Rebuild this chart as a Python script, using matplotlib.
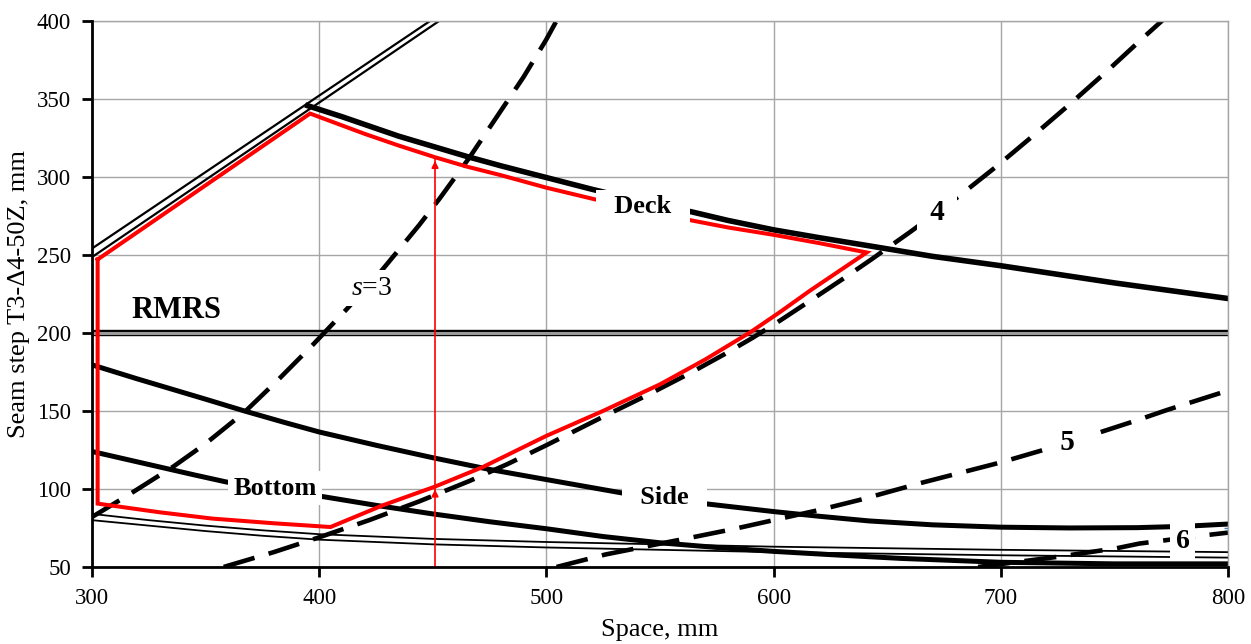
import matplotlib

matplotlib.use("Agg")

import matplotlib.pyplot as plt

plt.rcParams["font.family"] = ["Liberation Serif", "DejaVu Serif"]
plt.rcParams["mathtext.fontset"] = "custom"
plt.rcParams["mathtext.it"] = "Liberation Serif:italic"
plt.rcParams["mathtext.rm"] = "Liberation Serif"

# -----------------------------------------
# Data
# -----------------------------------------

# upper-left double line (two thin parallel lines)
dbl_top_x = [300, 449]
dbl_top_y = [254, 400]
dbl_bot_x = [300, 453]
dbl_bot_y = [248.5, 400]

# Deck (thick)
deck_x = [395, 410, 420, 435, 450, 465, 480, 500, 520, 540, 564, 580, 600,
          620, 641, 670, 700, 725, 750, 775, 800]
deck_y = [345.5, 338.5, 333.5, 326, 319.5, 313, 307, 299.5, 292, 285, 277.5,
          272, 266, 261, 256, 249, 243, 237.5, 232, 227, 222]

# Side (thick)
side_x = [300, 320, 335, 350, 367, 385, 400, 425, 450, 475, 500, 533, 550,
          570, 600, 620, 642, 670, 700, 730, 760, 780, 800]
side_y = [179.5, 170.5, 164, 157.5, 150, 142.5, 136.5, 128, 120, 112.5, 106,
          97.5, 94, 90.5, 85.5, 82.5, 79.5, 77, 75.5, 75, 75.2, 76, 77.5]

# Bottom (thick)
bottom_x = [300, 315, 330, 345, 359, 380, 402, 425, 450, 475, 500, 525, 550,
            575, 600, 630, 656, 700, 750, 800]
bottom_y = [124, 119, 114, 109, 104.5, 99.5, 95, 89.5, 84, 79, 74.5, 69.5,
            65.5, 62.5, 60, 57.5, 55.5, 53, 52, 52]

# lower thin double line
thin_x = [300, 325, 350, 375, 400, 450, 500, 550, 600, 700, 800]
thin_top_y = [84, 80, 76.5, 73.5, 71, 68, 66, 64.5, 63, 61, 59.5]
thin_bot_y = [80, 76.5, 73, 70, 67.5, 64.5, 62.5, 61, 59.5, 57.5, 56]

# RMRS level
rmrs_x = [300, 800]
rmrs_y = [200, 200]

# dashed curves, s = 3..6
s3_x = [300, 317, 336, 350, 367, 382, 397, 412, 427, 444, 453, 466, 478,
        490, 500, 504.5]
s3_y = [82, 97, 114.5, 129, 149, 170, 192, 215, 239, 269, 286, 312, 338,
        364, 388, 400]
s4_x = [358, 380, 400, 422, 444, 466, 483, 500, 526, 545, 563, 578, 591,
        603, 615, 632, 643, 660, 682, 698, 714, 730, 747, 763, 771]
s4_y = [50, 59.5, 69, 80, 92, 105, 116, 128, 147, 160.5, 174, 186, 197,
        208, 219.5, 236, 247, 264.5, 288, 306.5, 326, 346, 368, 389.5, 400]
s5_x = [504.5, 526, 545, 566, 583, 600, 620, 638, 664, 680, 700, 720, 742,
        760, 773, 787, 800]
s5_y = [50, 58, 63.5, 69.5, 74.5, 80, 86.5, 93, 103.5, 109.5, 117, 125.5,
        135.5, 144, 150.5, 157, 163]
s6_x = [690, 725, 751, 761, 788, 800]
s6_y = [50, 56.5, 62, 65, 70, 72]

# red feasible region
red_x = [302.5, 302.5, 330, 353, 380, 405, 428, 451, 472, 500, 525, 550,
         570, 590, 603, 616, 641,
         620, 600, 580, 564, 540, 520, 500, 480, 465, 451, 435, 420, 408,
         396, 302.5]
red_y = [247, 90.6, 85, 81, 78, 75.6, 89.5, 101.5, 114, 134, 150, 167,
         183, 200.6, 213.5, 227, 251.5,
         257.5, 262.8, 267.5, 272, 279, 286, 293, 301, 306.5, 312.5, 320,
         327.5, 334, 340.5, 247]

# red arrow
arrow_x = 451
arrow_y = [50, 101.5, 312]

# -----------------------------------------
# Plot
# -----------------------------------------

fig = plt.figure(figsize=(12.51, 6.44), dpi=100)
ax = fig.add_axes([0.0735, 0.1196, 0.9081, 0.8483])

ax.set_xlim(300, 800)
ax.set_ylim(50, 400)
ax.set_xticks([300, 400, 500, 600, 700, 800])
ax.set_yticks([50, 100, 150, 200, 250, 300, 350, 400])
ax.grid(True, color="#a6a6a6", linewidth=1.0)
ax.set_axisbelow(True)

for side in ["top", "right"]:
    ax.spines[side].set_color("#a6a6a6")
    ax.spines[side].set_linewidth(1.0)
for side in ["left", "bottom"]:
    ax.spines[side].set_linewidth(2.0)
    ax.spines[side].set_zorder(6)

ax.tick_params(labelsize=16.5, length=7, width=2, pad=8)

black = "black"
ax.plot(dbl_top_x, dbl_top_y, color=black, lw=1.6)
ax.plot(dbl_bot_x, dbl_bot_y, color=black, lw=1.6)

ax.plot(thin_x, thin_top_y, color=black, lw=1.3)
ax.plot(thin_x, thin_bot_y, color=black, lw=1.3)

ax.plot(rmrs_x, rmrs_y, color=black, lw=4.6, solid_capstyle="butt")
ax.plot(rmrs_x, rmrs_y, color="#999999", lw=2.2, solid_capstyle="butt")

ax.plot(deck_x, deck_y, color=black, lw=4.0)
ax.plot(side_x, side_y, color=black, lw=3.6)
ax.plot(bottom_x, bottom_y, color=black, lw=3.6)

for xs, ys in [(s3_x, s3_y), (s4_x, s4_y), (s5_x, s5_y), (s6_x, s6_y)]:
    ax.plot(xs, ys, color=black, lw=3.3, dashes=(7, 3.2),
            dash_capstyle="butt")

ax.plot(red_x, red_y, color="red", lw=2.9, solid_joinstyle="miter", zorder=4)

ax.plot([arrow_x, arrow_x], [arrow_y[0], arrow_y[-1]], color="red", lw=1.2,
        zorder=4)
for tip in arrow_y[1:]:
    ax.annotate("", xy=(arrow_x, tip), xytext=(arrow_x, tip - 6),
                arrowprops=dict(arrowstyle="-|>", color="red", lw=1.2,
                                mutation_scale=10), zorder=4)

ax.plot([800], [75], marker="+", color="#4f81bd", ms=6, mew=1)

# labels
box = dict(boxstyle="square,pad=0.2", facecolor="white", edgecolor="none")
ax.text(337, 214.5, "RMRS", fontsize=22, fontweight="bold",
        ha="center", va="center")
ax.text(423, 228.5, "$s$=3", fontsize=20, ha="center", va="center",
        bbox=box, zorder=5)
ax.text(542.5, 281, "  Deck  ", fontsize=19, fontweight="bold",
        ha="center", va="center", bbox=box, zorder=5)
ax.text(380.5, 100.5, "Bottom", fontsize=19, fontweight="bold",
        ha="center", va="center", bbox=box, zorder=5)
ax.text(552, 94.5, "  Side  ", fontsize=19, fontweight="bold",
        ha="center", va="center", bbox=box, zorder=5)
ax.text(672, 277, " 4 ", fontsize=21, fontweight="bold",
        ha="center", va="center", bbox=box, zorder=5)
ax.text(729.5, 130, " 5 ", fontsize=21, fontweight="bold",
        ha="center", va="center", bbox=box, zorder=5)
ax.text(780, 66.5, "6", fontsize=20, fontweight="bold",
        ha="center", va="center", bbox=box, zorder=5)

ax.set_xlabel("Space, mm", fontsize=19, va="center")
ax.set_ylabel("Seam step T3-\u03944-50Z, mm", fontsize=19, va="center")
ax.xaxis.set_label_coords(0.5, -0.115)
ax.yaxis.set_label_coords(-0.064, 0.5)

fig.savefig("out.png", dpi=100)
plt.close(fig)
